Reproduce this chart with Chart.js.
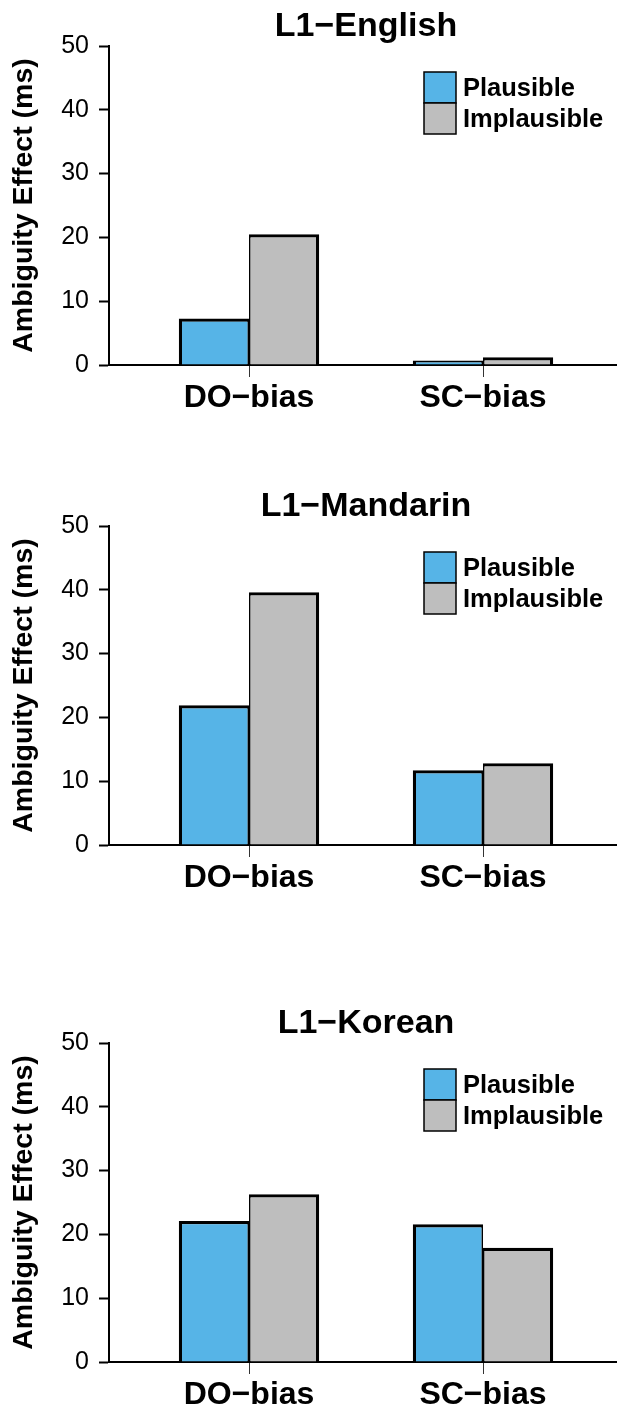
<!DOCTYPE html>
<html>
<head>
<meta charset="utf-8">
<script src="https://cdn.jsdelivr.net/npm/chart.js@4.4.1/dist/chart.umd.min.js"></script>
<style>
  html, body { margin: 0; padding: 0; background: #fff; overflow: hidden; }
  body { width: 617px; height: 1410px; position: relative; }
  canvas { position: absolute; left: 0; }
</style>
</head>
<body>
<canvas id="english" width="617" height="420" style="top:0"></canvas>
<canvas id="mandarin" width="617" height="420" style="top:480px"></canvas>
<canvas id="korean" width="617" height="420" style="top:997px"></canvas>
<script>
const categories = ['DO−bias', 'SC−bias'];
const seriesNames = ['Plausible', 'Implausible'];
const seriesColors = ['#56B4E7', '#BEBEBE'];

const englishPlausible = [7.3, 0.7];
const englishImplausible = [20.5, 1.2];
const mandarinPlausible = [21.9, 11.7];
const mandarinImplausible = [39.6, 12.8];
const koreanPlausible = [22.1, 21.6];
const koreanImplausible = [26.3, 17.9];

const FONT = '"Liberation Sans", Arial, Helvetica, sans-serif';
Chart.defaults.font.family = FONT;
Chart.defaults.color = '#000';

// title centred over the plot area rather than the whole canvas
const panelTitle = {
  id: 'panelTitle',
  afterDraw(chart, args, opts) {
    const { ctx, chartArea } = chart;
    ctx.save();
    ctx.font = 'bold 34px ' + FONT;
    ctx.fillStyle = '#000';
    ctx.textAlign = 'center';
    ctx.textBaseline = 'middle';
    ctx.fillText(opts.text, (chartArea.left + chartArea.right) / 2 + 3, chartArea.top - 19);
    ctx.restore();
  }
};

// stacked swatch legend in the upper right of the plot
const boxLegend = {
  id: 'boxLegend',
  afterDraw(chart) {
    const { ctx, chartArea } = chart;
    const x = chartArea.right - 193, w = 32, h = 31;
    let y = chartArea.top + 26;
    ctx.save();
    ctx.font = 'bold 25.5px ' + FONT;
    ctx.textBaseline = 'middle';
    chart.data.datasets.forEach(ds => {
      ctx.fillStyle = ds.backgroundColor;
      ctx.fillRect(x, y, w, h);
      ctx.lineWidth = 1.5;
      ctx.strokeStyle = '#000';
      ctx.strokeRect(x, y, w, h);
      ctx.fillStyle = '#000';
      ctx.fillText(ds.label, x + w + 7, y + h / 2 + 1);
      y += h;
    });
    ctx.restore();
  }
};

function buildPanel(id, title, plausible, implausible) {
  const values = [plausible, implausible];
  return new Chart(document.getElementById(id), {
    type: 'bar',
    data: {
      datasets: seriesNames.map((name, s) => ({
        label: name,
        data: values[s].map((v, i) => ({ x: i + 1, y: v })),
        backgroundColor: seriesColors[s],
        borderColor: '#000',
        borderWidth: s === 0
          ? { top: 3.2, left: 3.2, right: 1.6, bottom: 0 }
          : { top: 3.2, left: 1.6, right: 3.2, bottom: 0 },
        categoryPercentage: 0.6,
        barPercentage: 1.0
      }))
    },
    options: {
      responsive: false,
      animation: false,
      layout: { padding: { top: 46, left: 0, right: 0, bottom: 0 } },
      plugins: {
        legend: { display: false },
        title: { display: false },
        tooltip: { enabled: false },
        panelTitle: { text: title }
      },
      scales: {
        x: {
          type: 'linear',
          min: 1 - 140 / 234,
          max: 2 + 134 / 234,
          offset: false,
          afterBuildTicks: s => { s.ticks = categories.map((_, i) => ({ value: i + 1 })); },
          afterFit: s => { s.height = 55; },
          ticks: {
            callback: v => categories[v - 1],
            font: { size: 32, weight: 'bold' },
            color: '#000',
            padding: 2,
            maxRotation: 0,
            autoSkip: false
          },
          grid: { drawOnChartArea: false, offset: false, tickLength: 12, tickWidth: 1, tickColor: '#333' },
          border: { color: '#000', width: 2 }
        },
        y: {
          min: 0,
          max: 50,
          afterFit: s => { s.width = 109; },
          ticks: { stepSize: 10, font: { size: 25 }, color: '#000', padding: 10 },
          grid: { drawOnChartArea: false, tickLength: 10, tickWidth: 2, tickColor: '#000' },
          border: { color: '#000', width: 2 },
          title: {
            display: true,
            text: 'Ambiguity Effect (ms)',
            font: { size: 28.5, weight: 'bold' },
            color: '#000',
            padding: { top: 7, bottom: 0 }
          }
        }
      }
    },
    plugins: [panelTitle, boxLegend]
  });
}

buildPanel('english', 'L1−English', englishPlausible, englishImplausible);
buildPanel('mandarin', 'L1−Mandarin', mandarinPlausible, mandarinImplausible);
buildPanel('korean', 'L1−Korean', koreanPlausible, koreanImplausible);
</script>
</body>
</html>
